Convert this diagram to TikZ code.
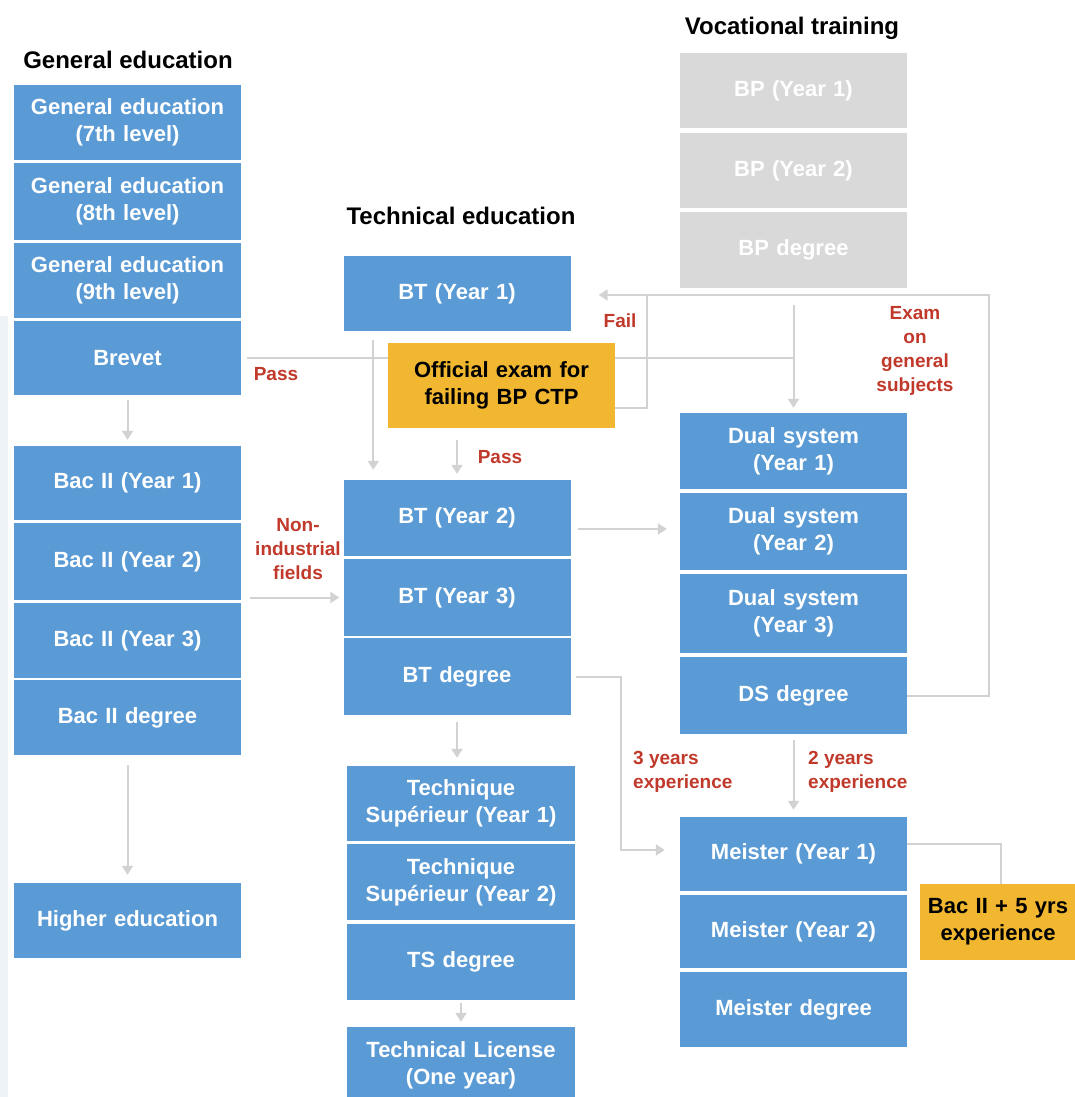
\documentclass[tikz,border=0pt]{standalone}
\usepackage{fontspec}
\setmainfont{Liberation Sans}
\usetikzlibrary{arrows.meta,positioning,backgrounds}

\definecolor{boxblue}{HTML}{5B9BD5}
\definecolor{boxgrey}{HTML}{D9D9D9}
\definecolor{boxgold}{HTML}{F1B731}
\definecolor{labelred}{HTML}{C0392B}
\definecolor{linegrey}{HTML}{D2D2D2}
\definecolor{edgetint}{HTML}{EEF3F8}

\begin{document}
\begin{tikzpicture}[
  x=1pt, y=-1pt,
  stage/.style={
    fill=boxblue, text=white, align=center, inner sep=0pt,
    minimum width=227pt, minimum height=76pt, text width=224pt,
    font=\fontsize{22}{27}\selectfont\bfseries
  },
  bp/.style={stage, fill=boxgrey},
  exam/.style={stage, fill=boxgold, text=black},
  head/.style={font=\fontsize{24}{28}\selectfont\bfseries, text=black},
  lbl/.style={font=\fontsize{19}{24}\selectfont\bfseries, text=labelred, align=center, inner sep=0pt},
  link/.style={draw=linegrey, line width=2pt},
  arrow/.style={link, -{Triangle[width=11pt,length=9pt]}}
]

\useasboundingbox (0,0) rectangle (1074,1097);
\fill[edgetint] (0,316) rectangle (8,1097);

\def\colA{127.5}
\def\colB{457}
\def\colC{793.5}

% General education
\node[head] (hgen) at (128,60) {General education};
\node[stage, minimum height=75pt] (ge7) at (\colA,122.5) {General education\\(7th level)};
\node[stage, minimum height=77pt] (ge8) at (\colA,201.5) {General education\\(8th level)};
\node[stage, minimum height=75pt] (ge9) at (\colA,280.5) {General education\\(9th level)};
\node[stage, minimum height=74pt] (brevet) at (\colA,358) {Brevet};
\node[stage, minimum height=74pt] (bac1) at (\colA,483) {Bac II (Year 1)};
\node[stage, minimum height=77pt] (bac2) at (\colA,561.5) {Bac II (Year 2)};
\node[stage, minimum height=75pt] (bac3) at (\colA,640.5) {Bac II (Year 3)};
\node[stage, minimum height=75pt] (bacdeg) at (\colA,717.5) {Bac II degree};
\node[stage, minimum height=75pt] (higher) at (\colA,920.5) {Higher education};

% Technical education
\node[head] (htech) at (461,216) {Technical education};
\node[stage, minimum height=75pt] (bt1) at (\colB,293.5) {BT (Year 1)};
\node[exam, minimum height=85pt] (official) at (501.5,385.5) {Official exam for\\failing BP CTP};
\node[stage, minimum height=76pt] (bt2) at (\colB,518) {BT (Year 2)};
\node[stage, minimum height=77pt] (bt3) at (\colB,597.5) {BT (Year 3)};
\node[stage, minimum height=77pt] (btdeg) at (\colB,676.5) {BT degree};
\node[stage, minimum width=228pt, minimum height=75pt] (ts1) at (461,803.5) {Technique\\Supérieur (Year 1)};
\node[stage, minimum width=228pt, minimum height=76pt] (ts2) at (461,882) {Technique\\Supérieur (Year 2)};
\node[stage, minimum width=228pt, minimum height=76pt] (tsdeg) at (461,962) {TS degree};
\node[stage, minimum width=228pt, minimum height=76pt] (tlic) at (461,1065) {Technical License\\(One year)};

% Vocational training
\node[head] (hvoc) at (792,28) {Vocational training};
\node[bp, minimum height=75pt] (bp1) at (\colC,90.5) {BP (Year 1)};
\node[bp, minimum height=75pt] (bp2) at (\colC,170.5) {BP (Year 2)};
\node[bp, minimum height=76pt] (bpdeg) at (\colC,250) {BP degree};
\node[stage, minimum height=76pt] (dual1) at (\colC,451) {Dual system\\(Year 1)};
\node[stage, minimum height=77pt] (dual2) at (\colC,531.5) {Dual system\\(Year 2)};
\node[stage, minimum height=79pt] (dual3) at (\colC,613.5) {Dual system\\(Year 3)};
\node[stage, minimum height=77pt] (dsdeg) at (\colC,695.5) {DS degree};
\node[stage, minimum height=74pt] (mei1) at (\colC,854) {Meister (Year 1)};
\node[stage, minimum height=73pt] (mei2) at (\colC,931.5) {Meister (Year 2)};
\node[stage, minimum height=75pt] (meideg) at (\colC,1009.5) {Meister degree};
\node[exam, minimum width=156pt, text width=156pt, minimum height=76pt] (bacexp) at (998,922) {Bac II + 5 yrs\\experience};

% Labels
\node[lbl] (lpass) at (276,374) {Pass};
\node[lbl] (lfail) at (620,321) {Fail};
\node[lbl] (lpass2) at (500,457) {Pass};
\node[lbl] (lexam) at (915,351) {Exam\\on\\general\\subjects};
\node[lbl] (lnonind) at (298,549) {Non-\\industrial\\fields};
\node[lbl, align=left, anchor=west] (lthree) at (633,772) {3 years\\experience};
\node[lbl, align=left, anchor=west] (ltwo) at (808,772) {2 years\\experience};

% Connectors
\coordinate (loop) at (989,295);
\begin{pgfonlayer}{background}
\draw[link] ([xshift=6pt]brevet.east) -- (brevet.east -| dual1.north);
\draw[arrow] ([yshift=-17pt]bpdeg.south) -- ([yshift=5pt]dual1.north);
\draw[arrow] ([xshift=30pt,yshift=-9pt]bt1.south west) -- ([xshift=30pt,yshift=10pt]bt2.north west);
\draw[arrow] ([yshift=-12pt]official.south -| bt2.north) -- ([yshift=6pt]bt2.north);
\draw[link] ([yshift=-22pt]official.east) -| ([xshift=32pt]loop -| official.east);
\draw[arrow] (dsdeg.east) -| (loop) -- ([xshift=28pt]loop -| bt1.east);
\draw[arrow] ([xshift=7pt,yshift=-11pt]bt2.east) -- ([xshift=-13pt,yshift=-11pt]bt2.east -| dual2.west);
\draw[arrow] ([xshift=9pt]bac2.east |- bt3.west) -- ([xshift=-4pt]bt3.west);
\draw[arrow] ([yshift=-5pt]brevet.south) -- ([yshift=6pt]bac1.north);
\draw[arrow] ([yshift=-10pt]bacdeg.south) -- ([yshift=8pt]higher.north);
\draw[arrow] ([yshift=-7pt]btdeg.south) -- ([yshift=8pt]btdeg.south |- ts1.north);
\draw[arrow] ([yshift=-3pt]tsdeg.south) -- ([yshift=5pt]tsdeg.south |- tlic.north);
\draw[arrow] ([xshift=5pt]btdeg.east) -- ++(45,0) |- ([xshift=-15pt,yshift=4pt]mei1.west);
\draw[arrow] ([yshift=-6pt]dsdeg.south) -- ([yshift=7pt]mei1.north);
\draw[link] ([yshift=10pt]mei1.east) -| ([xshift=3pt]bacexp.north);
\end{pgfonlayer}

\end{tikzpicture}
\end{document}
